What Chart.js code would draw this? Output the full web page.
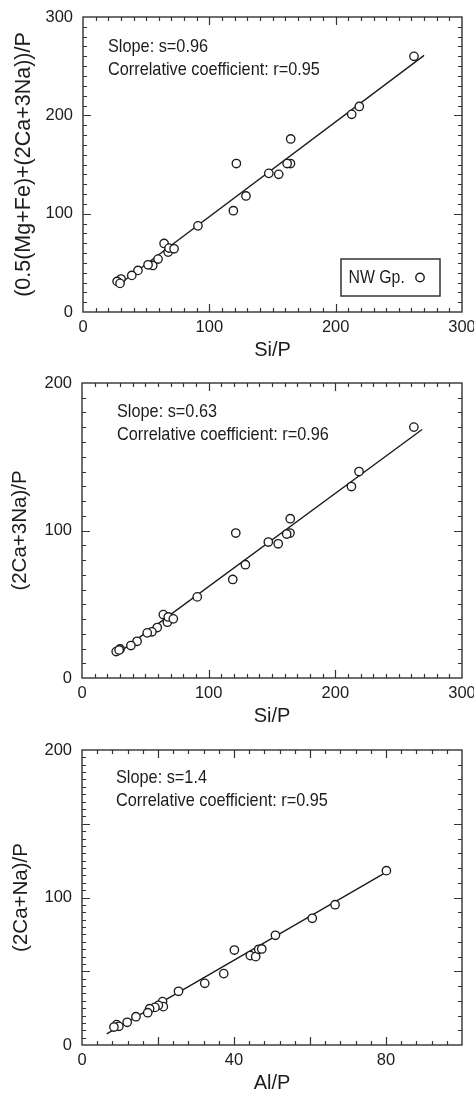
<!DOCTYPE html>
<html>
<head>
<meta charset="utf-8">
<script src="https://cdn.jsdelivr.net/npm/chart.js@4.4.1/dist/chart.umd.min.js"></script>
<style>
  html, body { margin: 0; padding: 0; background: #fff; }
  body { width: 474px; height: 1096px; position: relative; overflow: hidden; }
  .panel { position: absolute; left: 0; width: 474px; }
  canvas { display: block; }
</style>
</head>
<body>
<div class="panel" style="top:0;height:365px"><canvas id="chart1" width="474" height="365"></canvas></div>
<div class="panel" style="top:365px;height:365px"><canvas id="chart2" width="474" height="365"></canvas></div>
<div class="panel" style="top:730px;height:366px"><canvas id="chart3" width="474" height="366"></canvas></div>
<script>
"use strict";

// Si/P is the same for the first two panels
let siP = [262, 218.7, 212.7, 164.4, 164.2, 161.6, 121.4, 147.1, 154.9, 129, 119, 91,
  64.2, 67.4, 68.1, 72.1, 59.4, 55.2, 51.5, 43.5, 38.6, 30.1, 27, 29.3];
let mgFeCaNaP = [260, 209, 201, 176, 151, 151, 151, 141, 140, 118, 103, 87.6,
  69.7, 60.9, 65, 64.3, 53.8, 47.3, 48, 42.3, 37.2, 33.5, 31.1, 29.1];
let ca2Na3P = [170.1, 140, 129.8, 108, 98.3, 97.6, 98.3, 92.2, 91, 76.8, 66.8, 55,
  43, 37.8, 41.4, 40.1, 34.2, 31.3, 30.6, 24.9, 22, 19.7, 17.9, 19];

let alP = [80.1, 66.6, 60.6, 50.9, 40.1, 44.3, 45.7, 46.5, 47.3, 37.3, 32.3, 25.4,
  21.2, 21.4, 20.1, 19.2, 17.8, 17.3, 14.2, 11.9, 9.1, 9.7, 8.4];
let ca2NaP = [118.2, 95.1, 85.9, 74.4, 64.4, 60.6, 59.9, 64.9, 65.1, 48.4, 41.8, 36.4,
  29.4, 26, 26.9, 25.5, 24.6, 21.9, 19.2, 15.4, 13.8, 12.7, 12.2];

// fitted lines (end points)
let fit1X = [27.5, 270];
let fit1Y = [27, 261];
let fit2X = [28, 268.5];
let fit2Y = [16.5, 168.5];
let fit3X = [6.5, 81];
let fit3Y = [7.5, 118.6];

// tick labels
let siTicks = [0, 100, 200, 300];
let alTicks = [0, 40, 80];
let y300Ticks = [0, 100, 200, 300];
let y200Ticks = [0, 100, 200];

let note1 = ["Slope: s=0.96", "Correlative coefficient: r=0.95"];
let note2 = ["Slope: s=0.63", "Correlative coefficient: r=0.96"];
let note3 = ["Slope: s=1.4", "Correlative coefficient: r=0.95"];
let groupName = "NW Gp.";

const sans = "'Liberation Sans', Arial, sans-serif";
const ink = "#1c1c1c";
const squeeze = 0.88; // the figure text is a narrow face

function pairs(xs, ys) {
  return xs.map((x, i) => ({ x: x, y: ys[i] }));
}

function isMajor(v, step) {
  return Math.abs(v / step - Math.round(v / step)) < 1e-6;
}

function narrowText(ctx, text, x, y) {
  ctx.save();
  ctx.translate(x, y);
  ctx.scale(squeeze, 1);
  ctx.fillText(text, 0, 0);
  ctx.restore();
}

// box around the plot, inward ticks on every side, text notes and the legend
const frameTicks = {
  id: "frameTicks",
  afterDatasetsDraw(chart, args, opts) {
    const ctx = chart.ctx;
    const a = chart.chartArea;
    const xs = chart.scales.x;
    const ys = chart.scales.y;
    ctx.save();
    ctx.strokeStyle = "#333";
    ctx.lineWidth = 1.2;
    ctx.beginPath();
    let n = Math.round((xs.max - xs.min) / opts.xMinor);
    for (let i = 1; i < n; i++) {
      let v = xs.min + i * opts.xMinor;
      let px = Math.round(xs.getPixelForValue(v)) + 0.5;
      let len = isMajor(v, opts.xMajor) ? 8 : 4;
      ctx.moveTo(px, a.bottom);
      ctx.lineTo(px, a.bottom - len);
      ctx.moveTo(px, a.top);
      ctx.lineTo(px, a.top + len);
    }
    n = Math.round((ys.max - ys.min) / opts.yMinorLeft);
    for (let i = 1; i < n; i++) {
      let v = ys.min + i * opts.yMinorLeft;
      let py = Math.round(ys.getPixelForValue(v)) + 0.5;
      let len = isMajor(v, opts.yMajor) ? 8 : 4;
      ctx.moveTo(a.left, py);
      ctx.lineTo(a.left + len, py);
    }
    n = Math.round((ys.max - ys.min) / opts.yMinorRight);
    for (let i = 1; i < n; i++) {
      let v = ys.min + i * opts.yMinorRight;
      let py = Math.round(ys.getPixelForValue(v)) + 0.5;
      let len = isMajor(v, opts.yMajor) ? 8 : 4;
      ctx.moveTo(a.right, py);
      ctx.lineTo(a.right - len, py);
    }
    ctx.stroke();

    ctx.lineWidth = 1.4;
    ctx.strokeRect(a.left, a.top, a.right - a.left, a.bottom - a.top);

    ctx.fillStyle = ink;
    ctx.font = "18.5px " + sans;
    ctx.textBaseline = "alphabetic";
    ctx.textAlign = "left";
    opts.note.forEach((line, i) => {
      narrowText(ctx, line, a.left + opts.noteX, a.top + opts.noteY + i * 22.5);
    });

    if (opts.legend) {
      const bw = 99, bh = 37;
      const bx = a.right - 22 - bw;
      const by = a.bottom - 16 - bh;
      ctx.lineWidth = 1.5;
      ctx.strokeStyle = "#333";
      ctx.strokeRect(bx, by, bw, bh);
      ctx.font = "18px " + sans;
      ctx.textBaseline = "middle";
      narrowText(ctx, chart.data.datasets[0].label, bx + 7.5, by + bh / 2 + 1);
      ctx.beginPath();
      ctx.arc(bx + 79, by + bh / 2, 4.2, 0, Math.PI * 2);
      ctx.fillStyle = "#fff";
      ctx.fill();
      ctx.lineWidth = 1.4;
      ctx.strokeStyle = ink;
      ctx.stroke();
    }
    ctx.restore();
  },
};

function makeChart(id, cfg) {
  const config = {
    type: "scatter",
    data: {
      datasets: [
        {
          label: groupName,
          data: pairs(cfg.xs, cfg.ys),
          pointStyle: "circle",
          pointRadius: 4.2,
          pointBorderWidth: 1.35,
          borderColor: ink,
          backgroundColor: "#fff",
          order: 1,
        },
        {
          label: "fit",
          data: pairs(cfg.fitX, cfg.fitY),
          showLine: true,
          pointRadius: 0,
          borderColor: ink,
          borderWidth: 1.4,
          order: 2,
        },
      ],
    },
    options: {
      responsive: false,
      animation: false,
      devicePixelRatio: 1,
      layout: {
        padding: { top: cfg.padTop, right: 12, bottom: cfg.padBottom, left: 0 },
      },
      scales: {
        x: {
          type: "linear",
          min: cfg.xMin,
          max: cfg.xMax,
          afterBuildTicks: (s) => {
            s.ticks = cfg.xTicks.map((v) => ({ value: v }));
          },
          afterFit: (s) => {
            s.height = 50;
            s.paddingLeft = 0;
            s.paddingRight = 0;
          },
          grid: { display: false, drawTicks: false },
          border: { display: false },
          ticks: {
            padding: 6,
            color: ink,
            maxRotation: 0,
            autoSkip: false,
            font: { family: sans, size: 16.5 },
          },
          title: {
            display: true,
            text: cfg.xTitle,
            color: ink,
            font: { family: sans, size: 20 },
            padding: { top: 0, bottom: cfg.xTitlePad },
          },
        },
        y: {
          type: "linear",
          min: 0,
          max: cfg.yMax,
          afterBuildTicks: (s) => {
            s.ticks = cfg.yTicks.map((v) => ({ value: v }));
          },
          afterFit: (s) => {
            s.width = cfg.yWidth;
            s.paddingTop = 0;
            s.paddingBottom = 0;
          },
          grid: { display: false, drawTicks: false },
          border: { display: false },
          ticks: {
            padding: 10,
            color: ink,
            font: { family: sans, size: 16.5 },
          },
          title: {
            display: true,
            text: cfg.yTitle,
            color: ink,
            font: { family: sans, size: cfg.yTitleSize },
            padding: { top: cfg.yTitlePad, bottom: 0 },
          },
        },
      },
      plugins: {
        legend: { display: false },
        tooltip: { enabled: false },
        frameTicks: cfg.frame,
      },
    },
    plugins: [frameTicks],
  };
  return new Chart(document.getElementById(id), config);
}

makeChart("chart1", {
  xs: siP, ys: mgFeCaNaP, fitX: fit1X, fitY: fit1Y,
  xMin: 0, xMax: 300, yMax: 300, xTicks: siTicks, yTicks: y300Ticks,
  xTitle: "Si/P", yTitle: "(0.5(Mg+Fe)+(2Ca+3Na))/P", yTitleSize: 21.5,
  padTop: 17, padBottom: 3, yWidth: 83, xTitlePad: 0, yTitlePad: 11,
  frame: { xMinor: 10, xMajor: 100, yMinorLeft: 10, yMinorRight: 10, yMajor: 100,
    note: note1, noteX: 25, noteY: 35, legend: true },
});

makeChart("chart2", {
  xs: siP, ys: ca2Na3P, fitX: fit2X, fitY: fit2Y,
  xMin: 0, xMax: 300, yMax: 200, xTicks: siTicks, yTicks: y200Ticks,
  xTitle: "Si/P", yTitle: "(2Ca+3Na)/P", yTitleSize: 20.5,
  padTop: 18, padBottom: 2, yWidth: 82, xTitlePad: 0, yTitlePad: 8,
  frame: { xMinor: 10, xMajor: 100, yMinorLeft: 10, yMinorRight: 10, yMajor: 100,
    note: note2, noteX: 35, noteY: 34, legend: false },
});

makeChart("chart3", {
  xs: alP, ys: ca2NaP, fitX: fit3X, fitY: fit3Y,
  xMin: 0, xMax: 100, yMax: 200, xTicks: alTicks, yTicks: y200Ticks,
  xTitle: "Al/P", yTitle: "(2Ca+Na)/P", yTitleSize: 20.5,
  padTop: 20, padBottom: 1, yWidth: 82, xTitlePad: 0, yTitlePad: 9,
  frame: { xMinor: 4, xMajor: 20, yMinorLeft: 5, yMinorRight: 10, yMajor: 50,
    note: note3, noteX: 34, noteY: 33, legend: false },
});
</script>
</body>
</html>
